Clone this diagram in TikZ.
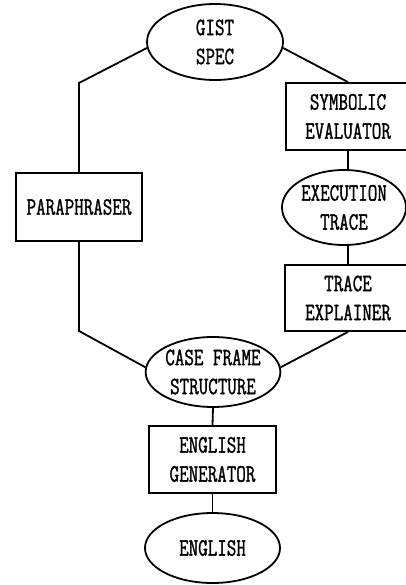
\documentclass[tikz,border=0pt]{standalone}
\usepackage{fontspec}
\newfontfamily\diafont[FakeStretch=0.74, FakeBold=1.2]{Latin Modern Mono}
\usetikzlibrary{shapes.geometric}
\tikzset{
  every node/.style={font=\diafont\fontsize{25}{29}\selectfont, align=center, inner sep=0pt},
  proc/.style={draw, rectangle, line width=1.8pt},
  data/.style={draw, ellipse, line width=1.8pt},
  link/.style={line width=1.8pt},
}
\begin{document}
\begin{tikzpicture}[x=1pt, y=-1pt]
\useasboundingbox (0,0) rectangle (406,585);
\clip (0,0) rectangle (406,585);

% nodes
\node[data, minimum width=136pt, minimum height=76pt] (gist) at (215,42) {GIST\\SPEC};
\node[proc, minimum width=124pt, minimum height=67pt] (symb) at (348,116.5) {SYMBOLIC\\EVALUATOR};
\node[proc, minimum width=126pt, minimum height=68pt] (para) at (79,207) {PARAPHRASER};
\node[data, minimum width=124pt, minimum height=75pt] (exec) at (344,207.5) {EXECUTION\\TRACE};
\node[proc, minimum width=126pt, minimum height=66pt] (expl) at (348,298) {TRACE\\EXPLAINER};
\node[data, minimum width=134pt, minimum height=70pt] (case) at (213,372) {CASE FRAME\\STRUCTURE};
\node[proc, minimum width=127pt, minimum height=67pt] (gen) at (212.5,459.5) {ENGLISH\\GENERATOR};
\node[data, minimum width=135pt, minimum height=70pt] (eng) at (212.5,548) {ENGLISH};

% bend points of the left branch
\coordinate (ptop) at (79,83);
\coordinate (pbot) at (79,331);

% connectors
\draw[link] (gist.185) -- (ptop) -- (para.north);
\draw[link] (para.south) -- (pbot) -- (case.176);
\draw[link] (gist.355) -- (symb.north);
\draw[link] (symb.south) -- (symb.south |- exec.north);
\draw[link] (exec.south -| expl.north) -- (expl.north);
\draw[link] (expl.south) -- (case.4);
\draw[link] (case.south) -- (gen.north);
\draw[link] (gen.south) -- (eng.north);
\end{tikzpicture}
\end{document}
